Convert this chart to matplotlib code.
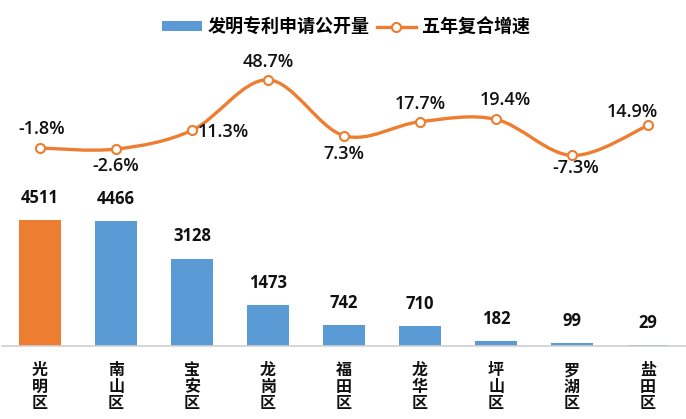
"""深圳各区发明专利申请公开量与五年复合增速组合图。"""

import matplotlib

matplotlib.use("Agg")

import matplotlib.pyplot as plt
from matplotlib.lines import Line2D
from matplotlib.patches import Patch, PathPatch
from matplotlib.path import Path

plt.rcParams["font.family"] = ["Noto Sans CJK SC", "DejaVu Sans"]

districts = ["光明区", "南山区", "宝安区", "龙岗区", "福田区", "龙华区", "坪山区", "罗湖区", "盐田区"]
patents = [4511, 4466, 3128, 1473, 742, 710, 182, 99, 29]
growth = [-1.8, -2.6, 11.3, 48.7, 7.3, 17.7, 19.4, -7.3, 14.9]
growth_labels = ["-1.8%", "-2.6%", "11.3%", "48.7%", "7.3%", "17.7%", "19.4%", "-7.3%", "14.9%"]

BLUE = "#5B9BD5"
ORANGE = "#ED7D31"
NUM_FONT = ["Open Sans", "DejaVu Sans"]
# 百分比标签相对数据点的偏移（points）和水平对齐
LABEL_OFFSETS = [(1, 14), (0, -12), (4, -1.5), (0, 12.5), (0, -13), (0, 13), (7, 14), (3, -9), (-11, 10)]
LABEL_HA = ["center", "center", "left", "center", "center", "center", "center", "center", "center"]


def smooth_path(xs, ys) -> Path:
    """Catmull-Rom 平滑曲线（类似 Excel 平滑线）。"""
    pts = list(zip(xs, ys))
    verts = [pts[0]]
    codes = [Path.MOVETO]
    n = len(pts)
    for i in range(n - 1):
        p0 = pts[i - 1] if i > 0 else pts[i]
        p1, p2 = pts[i], pts[i + 1]
        p3 = pts[i + 2] if i + 2 < n else pts[i + 1]
        c1 = (p1[0] + (p2[0] - p0[0]) / 6, p1[1] + (p2[1] - p0[1]) / 6)
        c2 = (p2[0] - (p3[0] - p1[0]) / 6, p2[1] - (p3[1] - p1[1]) / 6)
        verts += [c1, c2, p2]
        codes += [Path.CURVE4] * 3
    return Path(verts, codes)


fig = plt.figure(figsize=(6.86, 4.19), dpi=100)
ax = fig.add_axes([2 / 686, 73 / 419, 684 / 686, 286 / 419])
x = list(range(len(districts)))
colors = [ORANGE] + [BLUE] * (len(districts) - 1)
ax.bar(x, patents, width=0.55, color=colors, zorder=2)
for xi, v in zip(x, patents):
    ax.annotate(str(v), (xi, v), xytext=(0, 16), textcoords="offset points",
                ha="center", va="center", fontsize=12, fontweight="bold",
                family=NUM_FONT, color="#111111")
ax.set_xlim(-0.5, len(districts) - 0.5)
ax.set_ylim(0, 10239)
ax.set_yticks([])
ax.set_xticks(x)
ax.set_xticklabels(["\n".join(d) for d in districts], fontsize=11.5, fontweight="bold",
                   linespacing=1.05, color="#111111")
ax.tick_params(axis="x", length=0, pad=11.5)
for side in ["top", "left", "right"]:
    ax.spines[side].set_visible(False)
ax.spines["bottom"].set_color("#D0D0D0")
ax.spines["bottom"].set_linewidth(1.2)

ax2 = ax.twinx()
ax2.set_ylim(-148.5, 63.4)
ax2.axis("off")
ax2.add_patch(PathPatch(smooth_path(x, growth), facecolor="none", edgecolor=ORANGE,
                        linewidth=2.4, capstyle="round", zorder=3))
ax2.plot(x, growth, linestyle="none", marker="o", markersize=6.5, markerfacecolor="white",
         markeredgecolor=ORANGE, markeredgewidth=1.5, zorder=4)
for xi, v, lab, off, ha in zip(x, growth, growth_labels, LABEL_OFFSETS, LABEL_HA):
    ax2.annotate(lab, (xi, v), xytext=off, textcoords="offset points", ha=ha, va="center",
                 fontsize=13, fontweight="semibold", family=NUM_FONT, color="#111111")

handles = [
    Patch(facecolor=BLUE, edgecolor="none"),
    Line2D([], [], color=ORANGE, linewidth=2.4, marker="o", markersize=6.5,
           markerfacecolor="white", markeredgecolor=ORANGE, markeredgewidth=1.5),
]
fig.legend(handles, ["发明专利申请公开量", "五年复合增速"], loc="center",
           bbox_to_anchor=(346 / 686, 1 - 27 / 419), ncol=2, frameon=False,
           prop={"family": ["Noto Sans CJK SC", "DejaVu Sans"], "weight": "bold", "size": 13},
           handlelength=2.2, handleheight=0.4, handletextpad=0.3, columnspacing=0.4)

fig.savefig("out.png", dpi=100)
